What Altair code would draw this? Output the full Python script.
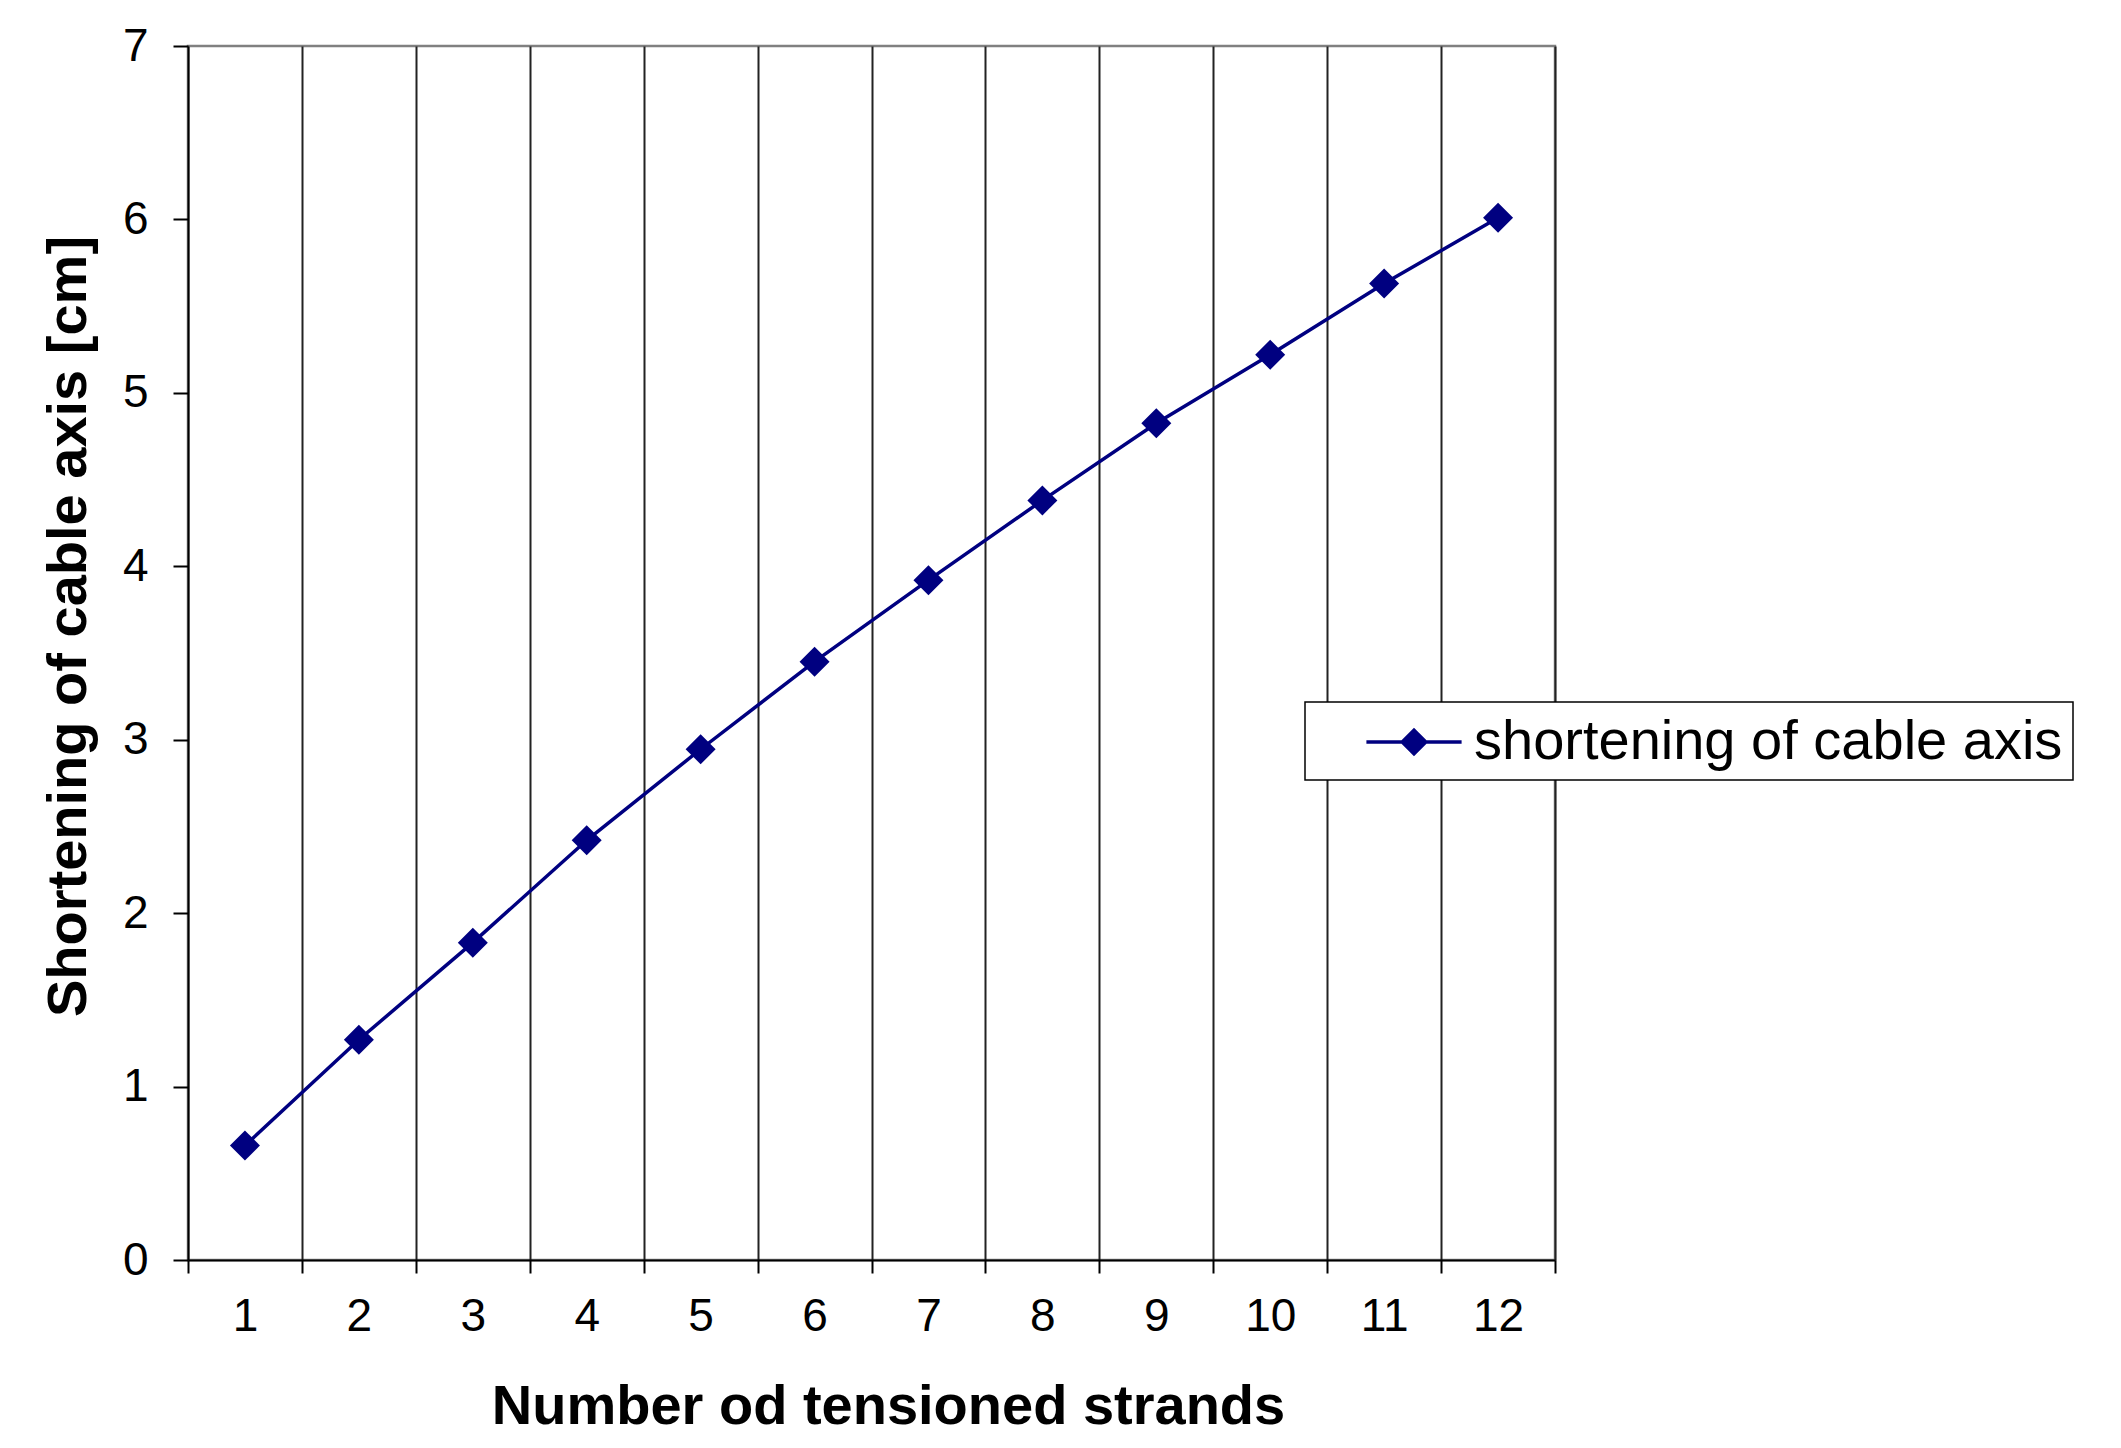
import altair as alt
import pandas as pd

# ---- data ----
strands = [1, 2, 3, 4, 5, 6, 7, 8, 9, 10, 11, 12]
shortening = [0.66, 1.27, 1.83, 2.42, 2.945, 3.45, 3.92, 4.38, 4.825, 5.22, 5.63, 6.01]
series_name = "shortening of cable axis"
y_ticks = [0, 1, 2, 3, 4, 5, 6, 7]

df = pd.DataFrame({
    "strands": strands,
    "shortening": shortening,
    "series": [series_name] * len(strands),
})

NAVY = "#000080"
FONT = "Liberation Sans"

x_enc = alt.X(
    "strands:O",
    sort=strands,
    scale=alt.Scale(type="band", paddingInner=0, paddingOuter=0),
    axis=alt.Axis(
        title="Number od tensioned strands",
        labelAngle=0,
        tickBand="extent",
        grid=True,
        gridColor={"condition": {"test": "datum.extra", "value": "#808080"}, "value": "#222222"},
        gridWidth=2,
        domainColor="black",
        domainWidth=2,
        tickColor="black",
        tickWidth=2,
        tickSize=13,
        labelFont=FONT,
        labelFontSize=46,
        labelColor="black",
        labelPadding=21,
        titleFont=FONT,
        titleFontSize=56,
        titleFontWeight="bold",
        titleColor="black",
        titleX=700,
        titleY=163,
        titleAlign="center",
        titleBaseline="alphabetic",
    ),
)

y_enc = alt.Y(
    "shortening:Q",
    scale=alt.Scale(domain=[0, 7], nice=False, zero=True),
    axis=alt.Axis(
        title="Shortening of cable axis [cm]",
        values=y_ticks,
        grid=False,
        domainColor="black",
        domainWidth=2,
        tickColor="black",
        tickWidth=2,
        tickSize=15,
        labelFont=FONT,
        labelFontSize=46,
        labelColor="black",
        labelPadding=25,
        titleFont=FONT,
        titleFontSize=56,
        titleFontWeight="bold",
        titleColor="black",
        titleX=-103,
        titleY=580,
        titleAlign="center",
        titleBaseline="alphabetic",
    ),
)

# legend symbol: a line sample with a diamond in its middle (unit = 28 px)
LEGEND_SYMBOL = "M-1.7,0L1.7,0M0,-0.42L0.42,0L0,0.42L-0.42,0Z"

color_enc = alt.Color(
    "series:N",
    scale=alt.Scale(domain=[series_name], range=[NAVY]),
    legend=alt.Legend(
        title=None,
        orient="none",
        legendX=1117,
        legendY=656,
        symbolType=LEGEND_SYMBOL,
        symbolSize=3136,
        symbolStrokeWidth=3.5,
        symbolFillColor=NAVY,
        symbolStrokeColor=NAVY,
        symbolOffset=69,
        labelFont=FONT,
        labelFontSize=56,
        labelColor="black",
        labelOffset=30,
        labelLimit=1000,
        padding=10,
        strokeColor="black",
        fillColor="white",
    ),
)

base = alt.Chart(df).encode(x=x_enc, y=y_enc, color=color_enc)

line = base.mark_line(strokeWidth=3.5)
points = base.mark_point(shape="diamond", filled=True, size=900, opacity=1)

chart = (
    alt.layer(line, points)
    .properties(
        width=1367,
        height=1214,
        autosize=alt.AutoSizeParams(type="none"),
        padding={"left": 180, "top": 38, "right": 555, "bottom": 176},
        background="white",
    )
    .configure_view(stroke="#808080", strokeWidth=2.5)
    .configure_legend(strokeWidth=1.5, cornerRadius=0)
)

chart.save("out.html", embed_options={"renderer": "svg", "actions": False})
